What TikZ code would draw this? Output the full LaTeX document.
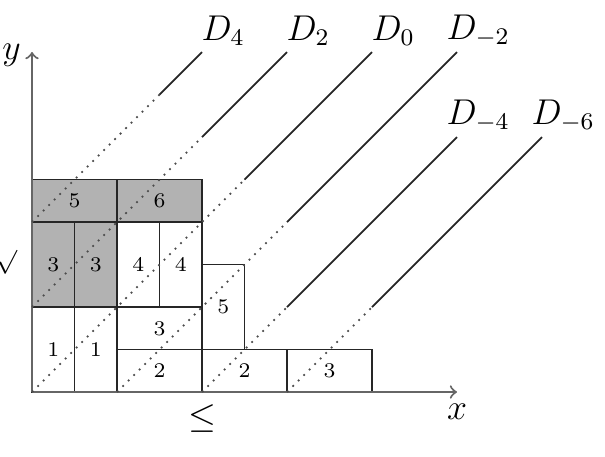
\documentclass[tikz,border=0pt]{standalone}
\usepackage{amssymb}
\begin{document}
\begin{tikzpicture}[x=0.5cm,y=0.5cm,
  cell/.style={draw=black!85,line width=0.6pt,minimum width=#1*0.5cm,inner sep=0pt,outer sep=0pt,font=\fontsize{7}{8}\selectfont},
  cell/.default=1,
  shaded/.style={fill=black!30},
  axis/.style={black!60,line width=0.7pt,-to},
  dline/.style={black!85,line width=0.6pt},
  dotline/.style={black!70,line width=0.6pt,dotted},
  dlabel/.style={font=\fontsize{12}{14}\selectfont,inner sep=0pt},
  biglabel/.style={font=\fontsize{12}{14}\selectfont,inner sep=0pt}]
\useasboundingbox (-0.753,-1.506) rectangle (13.482,9.224);
% boxes
\node[cell=1,minimum height=1cm] (b1a) at (0.5,1) {1};
\node[cell=1,minimum height=1cm] (b1b) at (1.5,1) {1};
\node[cell=2,minimum height=0.5cm] (b2a) at (3,0.5) {2};
\node[cell=2,minimum height=0.5cm] (b2b) at (5,0.5) {2};
\node[cell=2,minimum height=0.5cm] (b3c) at (7,0.5) {3};
\node[cell=2,minimum height=0.5cm] (b3w) at (3,1.5) {3};
\node[cell=1,minimum height=1cm] (b5) at (4.5,2) {5};
\node[cell=1,minimum height=1cm] (b4a) at (2.5,3) {4};
\node[cell=1,minimum height=1cm] (b4b) at (3.5,3) {4};
\node[cell=1,minimum height=1cm,shaded] (g3a) at (0.5,3) {3};
\node[cell=1,minimum height=1cm,shaded] (g3b) at (1.5,3) {3};
\node[cell=2,minimum height=0.5cm,shaded] (g5) at (1,4.5) {5};
\node[cell=2,minimum height=0.5cm,shaded] (g6) at (3,4.5) {6};
% axes
\coordinate (O) at (0,0);
\coordinate (xe) at (10,0);
\coordinate (ye) at (0,8);
\draw[axis] (O) -- (xe);
\draw[axis] (O) -- (ye);
\node[biglabel] (xl) at (10,-0.47) {$x$};
\node[biglabel] (yl) at (-0.48,7.92) {$y$};
\node[biglabel] (le) at (4,-0.62) {$\leq$};
\node[font=\fontsize{8}{9}\selectfont,inner sep=0pt] (sq) at (-0.6,3.05) {$\surd$};
% diagonal lines
\coordinate (a4) at (0,4); \coordinate (m4) at (3,7); \coordinate (e4) at (4,8);
\coordinate (a2) at (0,2); \coordinate (m2) at (4,6); \coordinate (e2) at (6,8);
\coordinate (a0) at (0,0); \coordinate (m0) at (5,5); \coordinate (e0) at (8,8);
\coordinate (am2) at (2,0); \coordinate (mm2) at (6,4); \coordinate (em2) at (10,8);
\coordinate (am4) at (4,0); \coordinate (mm4) at (6,2); \coordinate (em4) at (10,6);
\coordinate (am6) at (6,0); \coordinate (mm6) at (8,2); \coordinate (em6) at (12,6);
\foreach \k in {4,2,0,m2,m4,m6}{
  \draw[dotline] (a\k) -- (m\k);
  \draw[dline] (m\k) -- (e\k);
}
\node[dlabel] (l4) at (4.5,8.5) {$D_4$};
\node[dlabel] (l2) at (6.5,8.5) {$D_2$};
\node[dlabel] (l0) at (8.5,8.5) {$D_0$};
\node[dlabel] (lm2) at (10.5,8.5) {$D_{-2}$};
\node[dlabel] (lm4) at (10.5,6.5) {$D_{-4}$};
\node[dlabel] (lm6) at (12.5,6.5) {$D_{-6}$};
\end{tikzpicture}
\end{document}
